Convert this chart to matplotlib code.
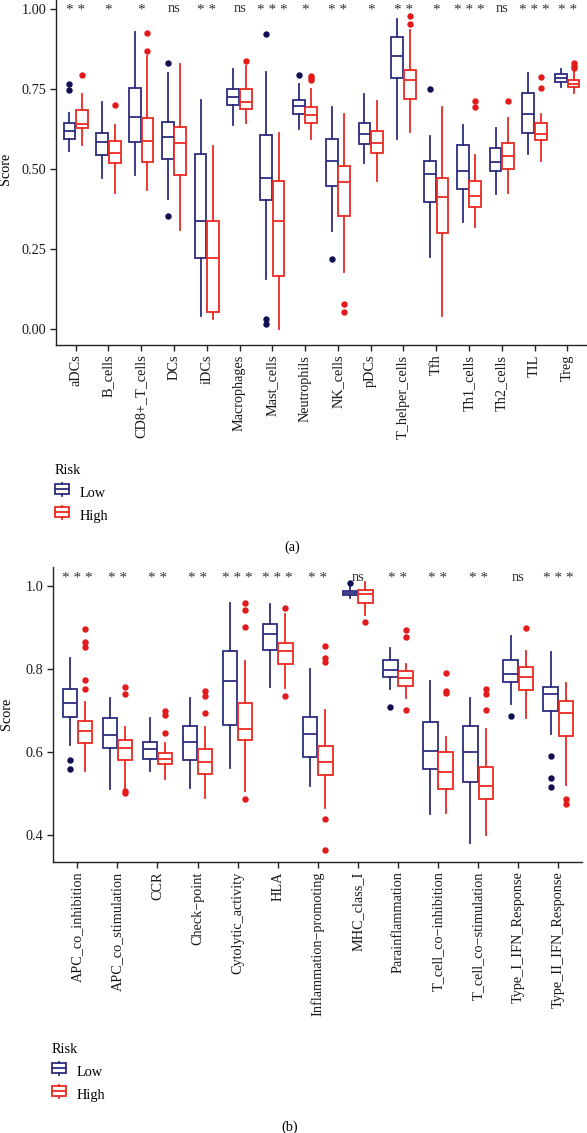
import numpy as np
import matplotlib
matplotlib.use('Agg')
import matplotlib.pyplot as plt
from matplotlib.legend_handler import HandlerBase
from matplotlib.patches import Rectangle
from matplotlib.lines import Line2D

plt.rcParams['font.family'] = ['Liberation Serif', 'DejaVu Serif']
plt.rcParams['font.size'] = 10.3

LOW_C = '#2d2c7e'
LOW_PT = '#0f0f52'
HIGH_C = '#ea2a22'
HIGH_PT = '#e31a1c'

# ---- panel (a): immune cells ----
cells = ['aDCs', 'B_cells', 'CD8+_T_cells', 'DCs', 'iDCs', 'Macrophages', 'Mast_cells',
         'Neutrophils', 'NK_cells', 'pDCs', 'T_helper_cells', 'Tfh', 'Th1_cells',
         'Th2_cells', 'TIL', 'Treg']
cells_sig = ['**', '*', '*', 'ns', '**', 'ns', '***', '*', '**', '*', '**', '*', '***', 'ns', '***', '**']

cells_low_wl = [0.557, 0.473, 0.482, 0.406, 0.041, 0.638, 0.157, 0.626, 0.306, 0.520, 0.593, 0.224, 0.334, 0.421, 0.547, 0.755]
cells_low_q1 = [0.593, 0.543, 0.584, 0.531, 0.223, 0.700, 0.404, 0.671, 0.447, 0.578, 0.785, 0.396, 0.438, 0.493, 0.613, 0.771]
cells_low_med = [0.620, 0.585, 0.663, 0.601, 0.338, 0.725, 0.471, 0.698, 0.525, 0.609, 0.853, 0.483, 0.495, 0.523, 0.671, 0.785]
cells_low_q3 = [0.645, 0.613, 0.753, 0.646, 0.548, 0.749, 0.606, 0.715, 0.594, 0.644, 0.913, 0.525, 0.574, 0.567, 0.738, 0.797]
cells_low_wh = [0.676, 0.709, 0.928, 0.801, 0.715, 0.813, 0.804, 0.765, 0.695, 0.733, 0.970, 0.602, 0.637, 0.627, 0.801, 0.814]
cells_low_out = [[0.767, 0.747], [], [], [0.830, 0.353], [], [], [0.923, 0.031, 0.016], [0.795],
                 [0.220], [], [], [0.751], [], [], [], []]

cells_high_wl = [0.574, 0.424, 0.434, 0.309, 0.031, 0.643, 0.0, 0.595, 0.177, 0.461, 0.617, 0.042, 0.320, 0.426, 0.524, 0.736]
cells_high_q1 = [0.628, 0.520, 0.522, 0.480, 0.054, 0.689, 0.165, 0.644, 0.353, 0.549, 0.718, 0.301, 0.380, 0.499, 0.590, 0.757]
cells_high_med = [0.640, 0.551, 0.588, 0.582, 0.223, 0.710, 0.338, 0.670, 0.459, 0.582, 0.777, 0.412, 0.417, 0.542, 0.610, 0.765]
cells_high_q3 = [0.684, 0.589, 0.658, 0.630, 0.338, 0.749, 0.461, 0.695, 0.510, 0.620, 0.809, 0.473, 0.461, 0.580, 0.645, 0.777]
cells_high_wh = [0.733, 0.639, 0.853, 0.828, 0.573, 0.822, 0.611, 0.751, 0.671, 0.712, 0.934, 0.695, 0.543, 0.658, 0.672, 0.807]
cells_high_out = [[0.795], [0.701], [0.924, 0.868], [], [], [0.837], [], [0.790, 0.784, 0.778],
                  [0.077, 0.053], [], [0.979, 0.952], [], [0.714, 0.695], [0.714], [0.787, 0.753],
                  [0.830, 0.823, 0.817]]

# ---- panel (b): immune functions ----
funcs = ['APC_co_inhibition', 'APC_co_stimulation', 'CCR', 'Check\u2212point', 'Cytolytic_activity',
         'HLA', 'Inflammation\u2212promoting', 'MHC_class_I', 'Parainflammation',
         'T_cell_co\u2212inhibition', 'T_cell_co\u2212stimulation', 'Type_I_IFN_Response',
         'Type_II_IFN_Response']
funcs_sig = ['***', '**', '**', '**', '***', '***', '**', 'ns', '**', '**', '**', 'ns', '***']

funcs_low_wl = [0.618, 0.511, 0.553, 0.513, 0.561, 0.757, 0.519, 0.972, 0.752, 0.451, 0.379, 0.716, 0.644]
funcs_low_q1 = [0.684, 0.610, 0.584, 0.580, 0.665, 0.847, 0.587, 0.980, 0.781, 0.558, 0.528, 0.768, 0.699]
funcs_low_med = [0.718, 0.641, 0.606, 0.624, 0.772, 0.885, 0.644, 0.984, 0.799, 0.603, 0.601, 0.789, 0.739]
funcs_low_q3 = [0.752, 0.682, 0.623, 0.663, 0.843, 0.910, 0.685, 0.990, 0.821, 0.672, 0.663, 0.821, 0.758]
funcs_low_wh = [0.827, 0.731, 0.682, 0.731, 0.961, 0.957, 0.801, 0.998, 0.851, 0.771, 0.731, 0.880, 0.841]
funcs_low_out = [[0.580, 0.560], [], [], [], [], [], [], [1.007], [0.708], [], [], [0.688],
                 [0.590, 0.536, 0.516]]

funcs_high_wl = [0.553, 0.507, 0.535, 0.489, 0.505, 0.755, 0.465, 0.932, 0.731, 0.453, 0.400, 0.681, 0.520]
funcs_high_q1 = [0.622, 0.580, 0.570, 0.548, 0.629, 0.813, 0.545, 0.961, 0.760, 0.510, 0.487, 0.750, 0.639]
funcs_high_med = [0.650, 0.610, 0.582, 0.577, 0.656, 0.843, 0.576, 0.981, 0.779, 0.552, 0.519, 0.782, 0.694]
funcs_high_q3 = [0.674, 0.628, 0.598, 0.606, 0.718, 0.863, 0.615, 0.992, 0.796, 0.599, 0.563, 0.805, 0.722]
funcs_high_wh = [0.721, 0.660, 0.622, 0.660, 0.819, 0.934, 0.701, 1.010, 0.813, 0.635, 0.656, 0.843, 0.766]
funcs_high_out = [[0.897, 0.865, 0.853, 0.775, 0.753], [0.757, 0.741, 0.505, 0.501],
                  [0.698, 0.690, 0.647], [0.747, 0.735, 0.694], [0.959, 0.944, 0.903, 0.487],
                  [0.947, 0.735], [0.855, 0.827, 0.817, 0.438, 0.364], [0.913],
                  [0.894, 0.877, 0.702], [0.791, 0.748, 0.742], [0.753, 0.741, 0.702], [0.899],
                  [0.487, 0.475]]


def make_stats(wl, q1, med, q3, wh, out):
    return [dict(whislo=a, q1=b, med=c, q3=d, whishi=e, fliers=f)
            for a, b, c, d, e, f in zip(wl, q1, med, q3, wh, out)]


class BoxHandler(HandlerBase):
    def create_artists(self, legend, orig, xd, yd, width, height, fontsize, trans):
        c = orig.get_color()
        bw = width * 0.9
        x0 = xd + (width - bw) / 2
        bh = height * 0.75
        y0 = yd + (height - bh) / 2
        rect = Rectangle((x0, y0), bw, bh, fc='white', ec=c, lw=1.3, transform=trans)
        mid = Line2D([x0, x0 + bw], [y0 + bh / 2] * 2, color=c, lw=1.3, transform=trans)
        wtop = Line2D([x0 + bw / 2] * 2, [y0 + bh, yd + height], color=c, lw=1.3, transform=trans)
        wbot = Line2D([x0 + bw / 2] * 2, [yd, y0], color=c, lw=1.3, transform=trans)
        return [rect, mid, wtop, wbot]


def draw_panel(ax, cats, sig, low, high, ylim, yticks, ticklabels, sig_y):
    n = len(cats)
    pos = np.arange(n)
    for stats, off, c, pc in [(low, -0.19, LOW_C, LOW_PT), (high, 0.19, HIGH_C, HIGH_PT)]:
        ax.bxp(stats, positions=pos + off, widths=0.36, patch_artist=True,
               boxprops=dict(facecolor='white', edgecolor=c, linewidth=1.3),
               medianprops=dict(color=c, linewidth=1.3),
               whiskerprops=dict(color=c, linewidth=1.3),
               capprops=dict(linewidth=0),
               flierprops=dict(marker='o', markerfacecolor=pc, markeredgecolor=pc,
                               markersize=3.6, linestyle='none'),
               manage_ticks=False)
    for i, s in enumerate(sig):
        if '*' in s:
            ax.text(i, sig_y - 0.004 * (ylim[1] - ylim[0]), ' '.join(s), ha='center', va='center',
                    fontsize=11, color='#333333')
        else:
            ax.text(i, sig_y, s, ha='center', va='center', fontsize=10.3, color='#333333')
    ax.set_xlim(-0.6, n - 0.4)
    ax.set_ylim(*ylim)
    ax.set_xticks(pos)
    ax.set_xticklabels(cats, rotation=90, fontsize=10.3, color='#1a1a1a')
    ax.set_yticks(yticks)
    ax.set_yticklabels(ticklabels, fontsize=10.3, color='#1a1a1a')
    for sp in ['top', 'right']:
        ax.spines[sp].set_visible(False)
    for sp in ['left', 'bottom']:
        ax.spines[sp].set_linewidth(1.0)
        ax.spines[sp].set_color('#222222')
    ax.tick_params(length=4, width=1.0, color='#222222', pad=3)
    ax.set_ylabel('Score', fontsize=10.3)


fig = plt.figure(figsize=(5.87, 11.33), dpi=100)

ax1 = fig.add_axes([56 / 587, 1 - 345 / 1133, 531 / 587, 352 / 1133])
draw_panel(ax1, cells, cells_sig,
           make_stats(cells_low_wl, cells_low_q1, cells_low_med, cells_low_q3, cells_low_wh, cells_low_out),
           make_stats(cells_high_wl, cells_high_q1, cells_high_med, cells_high_q3, cells_high_wh, cells_high_out),
           (-0.05, 1.05), [0, 0.25, 0.5, 0.75, 1.0], ['0.00', '0.25', '0.50', '0.75', '1.00'], 1.0)
ax1.yaxis.set_label_coords(-0.083, 0.5)

ax2 = fig.add_axes([53.3 / 587, 1 - 861.7 / 1133, 529 / 587, 295.2 / 1133])
draw_panel(ax2, funcs, funcs_sig,
           make_stats(funcs_low_wl, funcs_low_q1, funcs_low_med, funcs_low_q3, funcs_low_wh, funcs_low_out),
           make_stats(funcs_high_wl, funcs_high_q1, funcs_high_med, funcs_high_q3, funcs_high_wh, funcs_high_out),
           (0.335, 1.048), [0.4, 0.6, 0.8, 1.0], ['0.4', '0.6', '0.8', '1.0'], 1.022)
ax2.yaxis.set_label_coords(-0.076, 0.5)

h_low = Line2D([], [], color=LOW_C)
h_high = Line2D([], [], color=HIGH_C)
for (lx, ly) in [(50 / 587, 1 - 460 / 1133), (47 / 587, 1 - 1039 / 1133)]:
    leg = fig.legend([h_low, h_high], ['Low', 'High'], title='Risk', loc='upper left',
                     bbox_to_anchor=(lx, ly), frameon=False, fontsize=10.3,
                     title_fontsize=10.3, alignment='left',
                     handler_map={Line2D: BoxHandler()},
                     handlelength=1.05, handleheight=1.0, handletextpad=0.7,
                     labelspacing=0.6, borderaxespad=0, borderpad=0.3)

fig.text(292 / 587, 1 - 547 / 1133, '(a)', ha='center', va='center', fontsize=10.3)
fig.text(290 / 587, 1 - 1127 / 1133, '(b)', ha='center', va='center', fontsize=10.3)

fig.savefig('out.png', dpi=100)
